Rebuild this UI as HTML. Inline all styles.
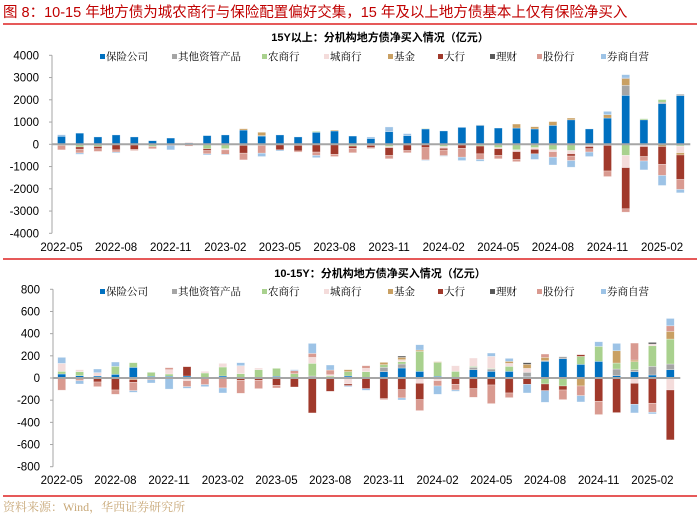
<!DOCTYPE html>
<html><head><meta charset="utf-8"><style>
html,body{margin:0;padding:0;background:#fff;}
svg{display:block;font-family:"Liberation Sans","Noto Sans CJK SC",sans-serif;}
.serif{font-family:"Liberation Serif","Noto Serif CJK SC",serif;}
</style></head><body>
<svg id="c" width="700" height="517" viewBox="0 0 700 517">
<text x="3" y="17" font-size="14.5" fill="#c00000">图 8：10-15 年地方债为城农商行与保险配置偏好交集，15 年及以上地方债基本上仅有保险净买入</text>
<line x1="3" y1="24" x2="697" y2="24" stroke="#d22" stroke-width="1.5"/>
<line x1="3" y1="259" x2="697" y2="259" stroke="#d22" stroke-width="1.5"/>
<line x1="3" y1="496" x2="697" y2="496" stroke="#d22" stroke-width="1.5"/>
<text class="serif" x="3" y="511" font-size="12" fill="#c8a878">资料来源：Wind，华西证券研究所</text>
<text x="380" y="41" font-size="11" font-weight="bold" text-anchor="middle" fill="#000">15Y以上：分机构地方债净买入情况（亿元）</text>
<text x="380" y="277" font-size="11" font-weight="bold" text-anchor="middle" fill="#000">10-15Y：分机构地方债净买入情况（亿元）</text>
<g id="top"></g>
<g id="bot"></g>
</svg>
<script>
const months = ["2022-05","2022-06","2022-07","2022-08","2022-09","2022-10","2022-11","2022-12","2023-01","2023-02","2023-03","2023-04","2023-05","2023-06","2023-07","2023-08","2023-09","2023-10","2023-11","2023-12","2024-01","2024-02","2024-03","2024-04","2024-05","2024-06","2024-07","2024-08","2024-09","2024-10","2024-11","2024-12","2025-01","2025-02","2025-03"];
const seriesNames = ["保险公司","其他资管产品","农商行","城商行","基金","大行","理财","股份行","券商自营"];
const seriesColors = ["#0070c0","#a5a5a5","#a9d18e","#f4dcdb","#c9a063","#a0392b","#595959","#d99a90","#9dc3e6"];
const seriesKeys = ["insurance","other-am","rural-bank","city-bank","fund","big-bank","wealth-mgmt","joint-stock-bank","broker"];
const topTicks = [4000,3000,2000,1000,0,-1000,-2000,-3000,-4000];
const botTicks = [800,600,400,200,0,-200,-400,-600,-800];
const xTickIdx = [0,3,6,9,12,15,18,21,24,27,30,33];

const topIns = [360,500,330,420,330,160,280,60,390,420,640,370,420,330,540,600,370,260,570,390,690,600,760,850,730,730,690,850,1100,690,1180,2200,1100,1830,2190];
const topOther = [0,0,0,0,0,0,0,0,0,0,0,20,0,0,0,0,0,0,0,0,0,0,0,20,0,0,0,0,0,0,0,450,0,60,60];
const topRural = [-50,-120,-100,0,-30,-100,0,0,-200,-200,-50,-50,0,-50,40,0,-80,-50,-100,0,20,-100,0,-80,-150,-250,-150,-250,-280,-50,0,-500,50,120,-80];
const topCity = [0,0,0,0,0,0,0,40,0,-50,0,0,0,0,0,0,0,0,-50,-30,0,-80,-30,0,-50,-80,-80,-80,-150,-50,-50,-550,-100,0,-300];
const topFund = [0,0,0,0,0,0,0,0,0,0,60,150,0,0,0,40,0,0,0,0,0,0,0,0,0,180,100,170,80,0,150,300,0,-100,-100];
const topBig = [0,-100,-100,-250,-200,0,-50,0,-80,0,-350,0,-250,-250,-350,-450,-100,-100,-350,-250,-150,-80,-150,-350,-300,-350,-200,0,-100,-100,-1150,-1850,-450,-800,-1100];
const topWealth = [0,0,0,0,0,0,0,0,0,0,0,0,0,0,0,0,0,0,0,0,0,0,0,0,0,0,0,0,0,0,0,30,0,0,0];
const topJoint = [-200,-170,-120,-100,-50,-100,0,-80,-150,-200,-300,-350,0,-50,-150,-100,-200,-40,-150,-100,-550,-250,-400,-250,-150,-100,0,-250,-200,-150,-250,-150,-200,-500,-450];
const topBroker = [70,-60,0,-40,0,0,-200,0,-50,-30,0,-150,-50,0,-100,0,0,70,210,90,-30,-30,-150,-80,0,0,-250,-350,-300,-200,150,150,-400,-450,-150];

const botIns = [36,21,18,33,96,15,15,18,0,18,0,0,15,0,0,0,18,0,57,90,60,15,0,75,60,60,12,150,174,123,150,21,57,27,75];
const botOther = [0,0,0,0,0,0,0,0,0,0,0,0,0,0,18,0,0,0,39,36,0,0,0,21,21,0,39,6,18,0,0,60,18,78,51];
const botRural = [24,36,0,72,42,36,21,0,45,81,39,75,72,39,114,18,39,57,24,21,180,126,60,9,6,45,0,-54,-72,72,135,54,72,186,225];
const botCity = [72,18,30,0,0,0,39,-24,15,33,72,15,0,0,54,12,-54,30,0,18,-48,-24,51,75,108,27,36,0,0,0,0,0,-48,15,-108];
const botFund = [0,0,0,0,-15,0,0,0,0,0,0,0,0,0,0,0,18,0,21,21,12,6,0,0,0,18,36,30,0,-72,0,111,15,0,69];
const botBig = [0,0,-36,-108,-24,0,0,84,0,0,-21,-21,-66,-81,-315,-120,-15,-96,-186,-105,-147,0,-57,-96,-63,-135,-57,-60,-36,15,-210,-312,-189,-228,-450];
const botWealth = [0,0,0,0,0,0,0,0,0,0,0,0,0,0,0,0,0,0,0,12,0,0,0,0,0,0,15,0,0,0,0,0,0,15,0];
const botJoint = [-110,-24,-42,-39,-75,-15,18,-54,-60,-90,-117,-75,-24,27,36,42,0,24,-9,-75,-99,-48,-51,-78,-168,-42,0,30,-87,-87,-120,0,153,-81,51];
const botBroker = [54,-30,33,39,-15,-30,-100,-15,-18,-45,27,0,0,9,90,45,-9,-15,0,-18,48,-75,-12,0,30,27,-78,-105,0,-57,42,66,-78,-15,66];

const NS = "http://www.w3.org/2000/svg";
function mk(parent, tag, attrs){ const e=document.createElementNS(NS,tag); for(const k in attrs) e.setAttribute(k,attrs[k]); parent.appendChild(e); return e; }

function drawChart(g, cfg){
  const yS = v => cfg.zeroY - v*cfg.pxPer;
  const xS = i => cfg.x0 + i*cfg.step;
  const ax = mk(g,'line',{x1:cfg.axX,y1:yS(cfg.ticks[0]),x2:cfg.axX,y2:yS(cfg.ticks[cfg.ticks.length-1]),stroke:'#a6a6a6','stroke-width':1});
  
  
  cfg.ticks.forEach(t=>{
    const tk = mk(g,'line',{x1:cfg.axX-3,y1:yS(t),x2:cfg.axX,y2:yS(t),stroke:'#a6a6a6','stroke-width':1});
    
    
    const tl = mk(g,'text',{x:cfg.axX-13,y:yS(t)+4,'font-size':11.5,'text-anchor':'end',fill:'#000'});
    tl.textContent = t;
    
    
  });
  for(let i=0;i<months.length;i++){
    let pos=0, neg=0;
    cfg.series.forEach((arr,s)=>{
      const v = arr[i]; if(!v) return;
      let y0,y1;
      if(v>0){ y0=pos; y1=pos+v; pos=y1; } else { y0=neg; y1=neg+v; neg=y1; }
      const top = yS(Math.max(y0,y1)), h = Math.abs(yS(y0)-yS(y1));
      const r = mk(g,'rect',{x:xS(i)-cfg.bw/2,y:top,width:cfg.bw,height:h,fill:seriesColors[s],stroke:'#ffffff','stroke-opacity':0.5,'stroke-width':0.6});
      
      
    });
  }
  const z = mk(g,'line',{x1:cfg.axX,y1:yS(0),x2:cfg.x0+(months.length-1)*cfg.step+10,y2:yS(0),stroke:'#a6a6a6','stroke-width':2});
  
  
  xTickIdx.forEach(i=>{
    const t = mk(g,'text',{x:xS(i),y:cfg.labY,'font-size':11.5,'text-anchor':'middle',fill:'#000'});
    t.textContent = months[i];
    
    
  });
  const lx = [100,172,262,324,388,438,490,537,601];
  seriesNames.forEach((n,s)=>{
    const lg = mk(g,'g',{});
    
    
    mk(lg,'rect',{x:lx[s],y:cfg.legY-4,width:5,height:5,fill:seriesColors[s]});
    const t = mk(lg,'text',{x:lx[s]+6,y:cfg.legY+2,'font-size':10.5,fill:'#000','class':'serif'});
    t.textContent = n;
  });
}

drawChart(document.getElementById('top'),{
  zeroY:144.3, pxPer:89/4000, x0:61.5, step:18.2, axX:52, bw:8, ticks:topTicks, labY:251, legY:58,
  series:[topIns,topOther,topRural,topCity,topFund,topBig,topWealth,topJoint,topBroker]
});
drawChart(document.getElementById('bot'),{
  zeroY:378, pxPer:88.7/800, x0:61.7, step:17.9, axX:53, bw:8, ticks:botTicks, labY:484, legY:293,
  series:[botIns,botOther,botRural,botCity,botFund,botBig,botWealth,botJoint,botBroker]
});
</script>
</body></html>
